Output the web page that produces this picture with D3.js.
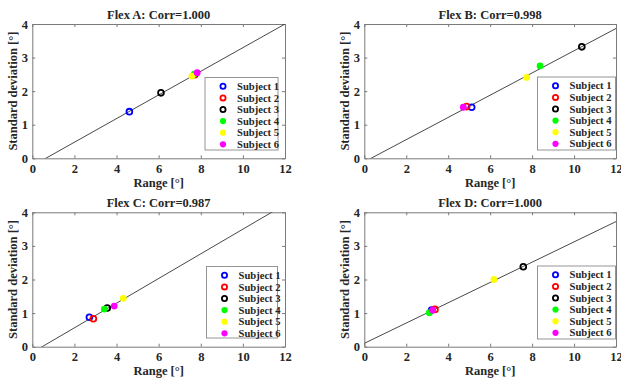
<!DOCTYPE html>
<html>
<head>
<meta charset="utf-8">
<script src="https://cdn.jsdelivr.net/npm/d3@7"></script>
<style>
  html, body { margin: 0; padding: 0; background: #fff; }
  svg { display: block; }
  text { font-family: "Liberation Serif", "Times New Roman", serif; font-weight: bold; fill: #262626; }
</style>
</head>
<body>
<svg id="chart" width="621" height="386"></svg>
<script>
// ---- Data ----
const flexNames = ["Flex A", "Flex B", "Flex C", "Flex D"];
const corrLabels = ["1.000", "0.998", "0.987", "1.000"];
const subjects = ["Subject 1", "Subject 2", "Subject 3", "Subject 4", "Subject 5", "Subject 6"];

const rangeA = [4.61, 7.72, 6.11, 7.69, 7.58, 7.83];
const sdA    = [1.39, 2.49, 1.95, 2.51, 2.45, 2.55];
const rangeB = [5.12, 4.88, 10.37, 8.38, 7.74, 4.72];
const sdB    = [1.52, 1.54, 3.32, 2.75, 2.41, 1.52];
const rangeC = [2.71, 2.90, 3.56, 3.42, 4.32, 3.89];
const sdC    = [0.875, 0.83, 1.15, 1.12, 1.44, 1.21];
const rangeD = [3.21, 3.37, 7.58, 3.10, 6.18, 3.26];
const sdD    = [1.09, 1.11, 2.38, 1.01, 2.00, 1.09];

const fitSlope     = [0.352, 0.331, 0.367, 0.302];
const fitIntercept = [-0.225, -0.106, -0.172, 0.10];

const xTicks = [0, 2, 4, 6, 8, 10, 12];
const yTicks = [0, 1, 2, 3, 4];
const xDomain = [0, 12];
const yDomain = [0, 4];

// ---- Styles / layout ----
const colors = ["#0000ff", "#ff0000", "#000000", "#00ff00", "#ffff00", "#ff00ff"];
const openMarker = [true, true, true, false, false, false];

const panels = [
  { x: rangeA, y: sdA, box: [32.3, 285, 24, 158.3], leg: [205, 77.5, 73, 72.5] },
  { x: rangeB, y: sdB, box: [364.3, 616, 24, 158.3], leg: [537.5, 77, 78, 73] },
  { x: rangeC, y: sdC, box: [32.3, 285, 212.3, 346.7], leg: [206.5, 266.5, 71, 71.5] },
  { x: rangeD, y: sdD, box: [364.3, 616, 212.3, 346.7], leg: [537.5, 266, 78, 73] }
];

const svg = d3.select("#chart");
svg.append("rect").attr("width", 621).attr("height", 386).attr("fill", "#fff");

const axisColor = "#7a7a7a";
const fontSize = "12.5px";

panels.forEach((p, i) => {
  const [l, r, t, b] = p.box;
  const xs = d3.scaleLinear().domain(xDomain).range([l, r]);
  const ys = d3.scaleLinear().domain(yDomain).range([b, t]);
  const g = svg.append("g");

  const clipId = "clip" + i;
  svg.append("clipPath").attr("id", clipId)
    .append("rect").attr("x", l).attr("y", t).attr("width", r - l).attr("height", b - t);

  // Axes: ticks inward on all four sides
  const ax = g.append("g").attr("transform", `translate(0,${b})`)
    .call(d3.axisBottom(xs).tickValues(xTicks).tickSizeInner(-3).tickSizeOuter(0).tickPadding(5.6).tickFormat(d3.format("d")));
  const ay = g.append("g").attr("transform", `translate(${l},0)`)
    .call(d3.axisLeft(ys).tickValues(yTicks).tickSizeInner(-3).tickSizeOuter(0).tickPadding(4.3).tickFormat(d3.format("d")));
  const at = g.append("g").attr("transform", `translate(0,${t})`)
    .call(d3.axisTop(xs).tickValues(xTicks).tickSizeInner(-3).tickSizeOuter(0).tickFormat(""));
  const ar = g.append("g").attr("transform", `translate(${r},0)`)
    .call(d3.axisRight(ys).tickValues(yTicks).tickSizeInner(-3).tickSizeOuter(0).tickFormat(""));
  [ax, ay, at, ar].forEach(a => {
    a.selectAll("path.domain").attr("stroke", axisColor);
    a.selectAll(".tick line").attr("stroke", axisColor);
    a.selectAll(".tick text").attr("fill", "#262626")
      .style("font-family", "'Liberation Serif', serif").style("font-weight", "bold").style("font-size", fontSize);
  });

  // Fit line (clipped to the axes box)
  const lineData = xDomain.map(xv => [xv, fitSlope[i] * xv + fitIntercept[i]]);
  g.append("path")
    .datum(lineData)
    .attr("clip-path", `url(#${clipId})`)
    .attr("fill", "none").attr("stroke", "#333").attr("stroke-width", 0.9)
    .attr("d", d3.line().x(d => xs(d[0])).y(d => ys(d[1])));

  // Points
  const pts = subjects.map((s, k) => ({ k, x: p.x[k], y: p.y[k] }));
  g.selectAll("circle.pt").data(pts).join("circle")
    .attr("class", "pt")
    .attr("cx", d => xs(d.x)).attr("cy", d => ys(d.y))
    .attr("r", d => openMarker[d.k] ? 2.9 : 3.4)
    .attr("fill", d => openMarker[d.k] ? "none" : colors[d.k])
    .attr("stroke", d => openMarker[d.k] ? colors[d.k] : "none")
    .attr("stroke-width", 1.8);

  // Title
  g.append("text")
    .attr("x", (l + r) / 2).attr("y", t - 5.5)
    .attr("text-anchor", "middle").style("font-size", fontSize)
    .text(`${flexNames[i]}: Corr=${corrLabels[i]}`);

  // Axis labels
  g.append("text")
    .attr("x", (l + r) / 2).attr("y", b + 28.6)
    .attr("text-anchor", "middle").style("font-size", fontSize)
    .text("Range [°]");
  g.append("text")
    .attr("transform", `translate(${l - 15},${(t + b) / 2}) rotate(-90)`)
    .attr("text-anchor", "middle").style("font-size", fontSize)
    .text("Standard deviation [°]");

  // Legend
  const [lx, ly, lw, lh] = p.leg;
  const lg = g.append("g");
  lg.append("rect").attr("x", lx).attr("y", ly).attr("width", lw).attr("height", lh)
    .attr("fill", "#fff").attr("stroke", "#8a8a8a").attr("stroke-width", 0.9);
  subjects.forEach((s, k) => {
    const yy = ly + 8.8 + k * 11.6;
    lg.append("circle")
      .attr("cx", lx + 18).attr("cy", yy)
      .attr("r", openMarker[k] ? 2.6 : 3.1)
      .attr("fill", openMarker[k] ? "none" : colors[k])
      .attr("stroke", openMarker[k] ? colors[k] : "none")
      .attr("stroke-width", 1.8);
    lg.append("text")
      .attr("x", lx + 32).attr("y", yy + 3.6)
      .style("font-size", "10.6px")
      .text(s);
  });
});
</script>
</body>
</html>
